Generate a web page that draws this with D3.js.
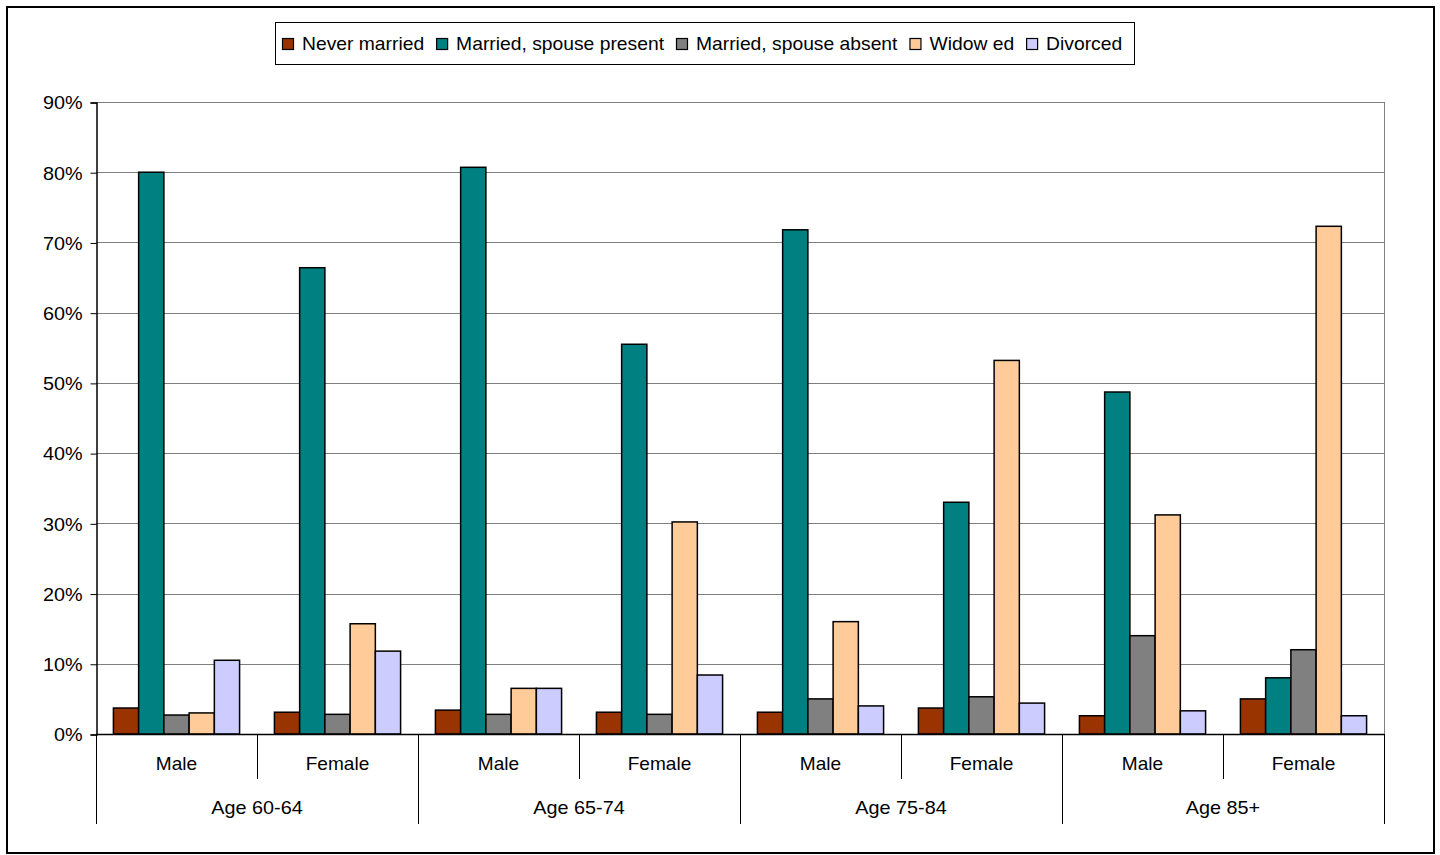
<!DOCTYPE html>
<html><head><meta charset="utf-8">
<script src="https://cdn.jsdelivr.net/npm/d3@7"></script>
<style>body{margin:0;background:#fff}svg{display:block}text{font-family:"Liberation Sans",Arial,sans-serif;fill:#000}</style>
</head><body><svg id="c" width="1440" height="855"></svg>
<script>
const ages = ["Age 60-64","Age 65-74","Age 75-84","Age 85+"];
const sexes = ["Male","Female"];
const series = ["Never married","Married, spouse present","Married, spouse absent","Widowed","Divorced"];
const legendLabels = ["Never married","Married, spouse present","Married, spouse absent","Widow ed","Divorced"];
const colors = ["#993300","#008080","#808080","#FFCC99","#CCCCFF"];
const yTicks = [0,0.1,0.2,0.3,0.4,0.5,0.6,0.7,0.8,0.9];
// values per series, in order: 60-64 M, 60-64 F, 65-74 M, 65-74 F, 75-84 M, 75-84 F, 85+ M, 85+ F
const neverMarried   = [0.037,0.031,0.034,0.031,0.031,0.037,0.026,0.050];
const marriedPresent = [0.800,0.664,0.807,0.555,0.718,0.330,0.487,0.080];
const marriedAbsent  = [0.027,0.028,0.028,0.028,0.050,0.053,0.140,0.120];
const widowed        = [0.030,0.157,0.065,0.302,0.160,0.532,0.312,0.723];
const divorced       = [0.105,0.118,0.065,0.084,0.040,0.044,0.033,0.026];
const allValues = [neverMarried,marriedPresent,marriedAbsent,widowed,divorced];

const svg = d3.select("#c");
svg.append("rect").attr("x",7).attr("y",7).attr("width",1427).attr("height",846)
  .attr("fill","#fff").attr("stroke","#000").attr("stroke-width",2);

const L=96,R=1384,T=102,B=734;
const subKeys = [];
ages.forEach(a=>sexes.forEach(s=>subKeys.push(a+"|"+s)));
const x0 = d3.scaleBand().domain(subKeys).range([L,R]).paddingInner(0).paddingOuter(0);
const x1 = d3.scaleBand().domain(series).range([0,x0.bandwidth()]).paddingInner(0).paddingOuter(0.69);
const y = d3.scaleLinear().domain([0,0.9]).range([B,T]);

function stext(g, x, yy, str, anchor, size, sx){
  return g.append("text").attr("transform",`translate(${x},${yy}) scale(${sx},1)`)
    .attr("text-anchor",anchor).style("font-size",size+"px").text(str);
}

// gridlines
svg.append("g").selectAll("line").data(yTicks.filter(d=>d>0)).join("line")
  .attr("x1",L).attr("x2",R).attr("y1",d=>Math.round(y(d))+0.5).attr("y2",d=>Math.round(y(d))+0.5)
  .attr("stroke","#7f7f7f").attr("stroke-width",1);
// right plot border
svg.append("line").attr("x1",R+0.5).attr("x2",R+0.5).attr("y1",T).attr("y2",B).attr("stroke","#7f7f7f");

// y axis
const yAxis = d3.axisLeft(y).tickValues(yTicks).tickFormat(d3.format(".0%")).tickSize(6).tickPadding(9);
const ya = svg.append("g").attr("transform",`translate(${L+0.5},0.5)`).call(yAxis);
ya.select(".domain").attr("stroke","#000").attr("stroke-width",1.5);
ya.selectAll(".tick line").attr("stroke","#000");
ya.selectAll(".tick text").each(function(){
  const t = d3.select(this);
  const xx = +t.attr("x");
  t.attr("x",null).attr("dy","0.35em").attr("transform",`translate(${xx+1},0) scale(1.1,1)`)
   .style("font-size","18px").style("font-family","Liberation Sans, Arial, sans-serif").attr("fill","#000");
});

// bars
const flat = [];
subKeys.forEach((k,i)=>series.forEach((s,j)=>flat.push({k,s,j,v:allValues[j][i]})));
svg.append("g").selectAll("rect").data(flat).join("rect")
  .attr("x",d=>x0(d.k)+x1(d.s))
  .attr("width",x1.bandwidth())
  .attr("y",d=>y(d.v))
  .attr("height",d=>B-y(d.v))
  .attr("fill",d=>colors[d.j]).attr("stroke","#000").attr("stroke-width",1.5);

// x axis baseline
svg.append("line").attr("x1",L).attr("x2",R).attr("y1",B+0.5).attr("y2",B+0.5).attr("stroke","#000").attr("stroke-width",1.5);

// category axis: sex labels and separators
const gx = svg.append("g");
subKeys.forEach((k,i)=>{
  const xs = x0(k);
  if(i%2===1){
    gx.append("line").attr("x1",Math.round(xs)+0.5).attr("x2",Math.round(xs)+0.5).attr("y1",B).attr("y2",779).attr("stroke","#000");
  }
  stext(gx, xs+x0.bandwidth()/2, 770, k.split("|")[1], "middle", 18, 1.06);
});
const ageStarts = ages.map(a=>x0(a+"|Male"));
ageStarts.concat([R]).forEach(xs=>{
  gx.append("line").attr("x1",Math.round(xs)+0.5).attr("x2",Math.round(xs)+0.5).attr("y1",B).attr("y2",824).attr("stroke","#000");
});
ages.forEach(a=>{
  const xs = x0(a+"|Male");
  stext(gx, xs+x0.bandwidth(), 814, a, "middle", 18, 1.1);
});

// legend
const lg = svg.append("g");
lg.append("rect").attr("x",275.5).attr("y",22.5).attr("width",859).attr("height",42)
  .attr("fill","#fff").attr("stroke","#000").attr("stroke-width",1);
let cx = 282;
legendLabels.forEach((t,i)=>{
  lg.append("rect").attr("x",cx+0.5).attr("y",38.5).attr("width",11).attr("height",11)
    .attr("fill",colors[i]).attr("stroke","#000").attr("stroke-width",1.2);
  const tx = stext(lg, cx+20, 50, t, "start", 18, 1.072);
  cx += 20 + tx.node().getComputedTextLength()*1.072 + 12;
});
</script></body></html>
